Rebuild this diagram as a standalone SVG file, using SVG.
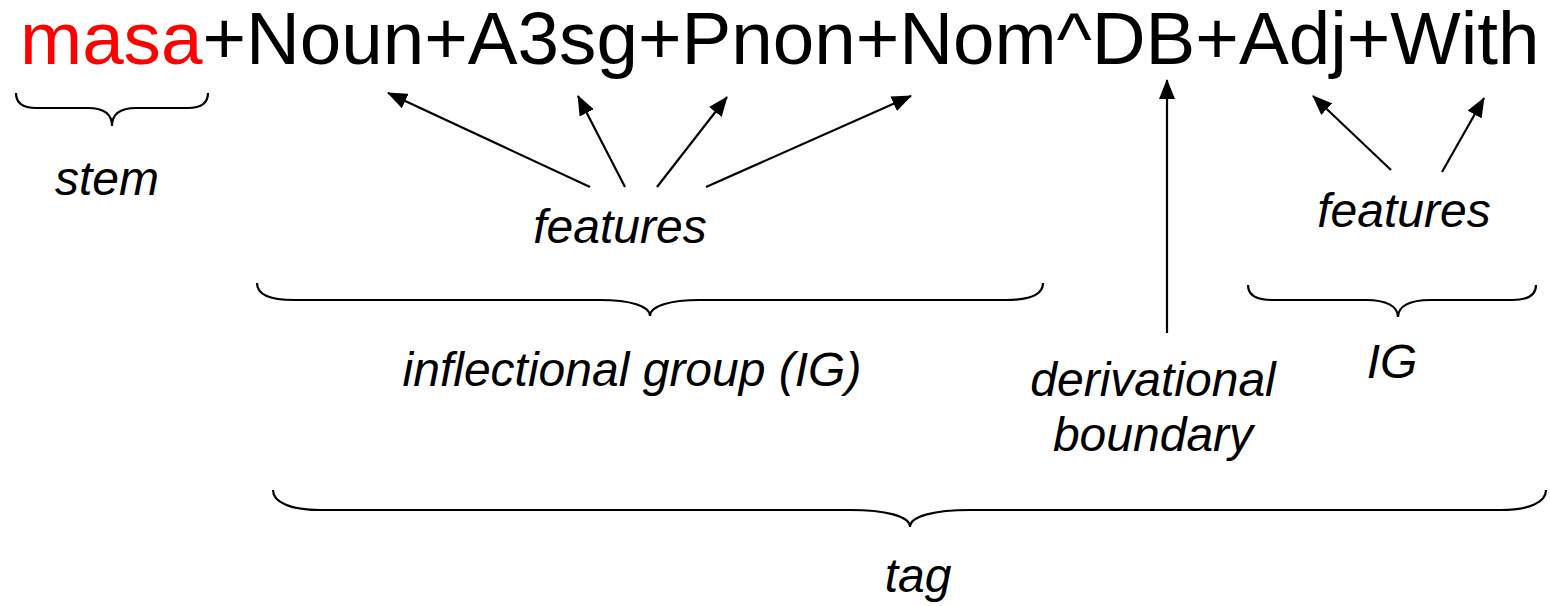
<svg xmlns="http://www.w3.org/2000/svg" width="1550" height="606" viewBox="0 0 1550 606">
  <style>
    .tag-line { font-family: "Liberation Sans", Arial, sans-serif; font-size: 74.6px; fill: #000; }
    .stem { fill: #ff0000; }
    .label { font-family: "Liberation Sans", Arial, sans-serif; font-size: 48px; font-style: italic; fill: #000; text-anchor: middle; }
    .brace { fill: none; stroke: #000; stroke-width: 2.2; }
    .arrow { fill: none; stroke: #000; stroke-width: 2.2; marker-end: url(#head); }
  </style>
  <defs>
    <!-- filled triangular arrowhead, tip at the line end -->
    <marker id="head" viewBox="0 0 20 16" refX="19" refY="8" markerWidth="20" markerHeight="16" markerUnits="userSpaceOnUse" orient="auto">
      <path d="M0,0 L20,8 L0,16 z" fill="#000"/>
    </marker>
  </defs>

  <rect width="1550" height="606" fill="#fff"/>

  <!-- analysed word form -->
  <g id="analysis">
    <text class="tag-line" x="20" y="64"><tspan class="stem">masa</tspan>+Noun+A3sg+Pnon+Nom^DB+Adj+With</text>
  </g>

  <!-- braces -->
  <g id="braces">
    <path id="brace-stem" class="brace" d="M16,93 C16,104 24,108 36,108 L88,108 C104,108 112,114 112,126 C112,114 120,108 136,108 L188,108 C200,108 208,104 208,93"/>
    <path id="brace-ig1" class="brace" d="M257,283 C257,294 270,300 294,300 L600,300 C630,300 650,306 650,316 C650,306 670,300 700,300 L1006,300 C1030,300 1043,294 1043,283"/>
    <path id="brace-ig2" class="brace" d="M1248,285 C1248,295 1256,300 1272,300 L1366,300 C1386,300 1398,306 1398,317 C1398,306 1410,300 1430,300 L1512,300 C1528,300 1536,295 1536,285"/>
    <path id="brace-tag" class="brace" d="M273,490 C273,502 290,510 320,510 L850,510 C885,510 910,516 910,527 C910,516 935,510 970,510 L1500,510 C1530,510 1546,502 1546,490"/>
  </g>

  <!-- labels -->
  <g id="stem-label"><text class="label" x="107" y="195">stem</text></g>
  <g id="features-ig1"><text class="label" x="620" y="243">features</text></g>
  <g id="features-ig2"><text class="label" x="1404" y="227">features</text></g>
  <g id="ig1-label"><text class="label" x="632" y="386">inflectional group (IG)</text></g>
  <g id="ig2-label"><text class="label" x="1392" y="378">IG</text></g>
  <g id="db-label">
    <text class="label" x="1153" y="396">derivational</text>
    <text class="label" x="1153" y="451">boundary</text>
  </g>
  <g id="tag-label"><text class="label" x="918" y="592">tag</text></g>

  <!-- connectors -->
  <g id="connectors">
    <line class="arrow" x1="590" y1="187" x2="388" y2="93"/>
    <line class="arrow" x1="625" y1="187" x2="578" y2="96"/>
    <line class="arrow" x1="657" y1="187" x2="727" y2="97"/>
    <line class="arrow" x1="706" y1="187" x2="911" y2="96"/>
    <line class="arrow" x1="1167" y1="333" x2="1167" y2="80"/>
    <line class="arrow" x1="1391" y1="170" x2="1313" y2="96"/>
    <line class="arrow" x1="1442" y1="172" x2="1484" y2="98"/>
  </g>
</svg>
